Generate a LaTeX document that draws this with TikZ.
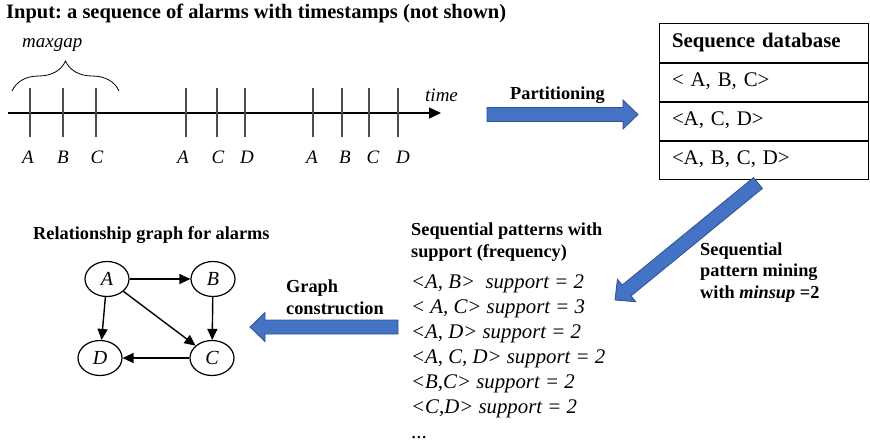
\documentclass[tikz,border=0pt]{standalone}
\usepackage{fontspec}
\setmainfont{Liberation Serif}
\usepackage{tikz}
\usepackage{xcolor}
\usetikzlibrary{shapes.geometric, arrows.meta, positioning, calc, decorations.pathreplacing}
\frenchspacing

\definecolor{arrowfill}{HTML}{4472C4}
\definecolor{arrowedge}{HTML}{2F528F}

% wide flat arrow from #1 (tail) to #2 (tip)
\newcommand{\blockarrow}[2]{%
  \coordinate (hb) at ($(#2)!15pt!(#1)$);
  \draw[bigarrow] ($(#1)!7pt!90:(#2)$) -- ($(hb)!7pt!90:(#2)$)
    -- ($(hb)!14.5pt!90:(#2)$) -- (#2) -- ($(hb)!14.5pt!-90:(#2)$)
    -- ($(hb)!7pt!-90:(#2)$) -- ($(#1)!7pt!-90:(#2)$) -- cycle;}

\begin{document}
\begin{tikzpicture}[x=1pt, y=-1pt, >={Triangle[length=11pt, width=10pt]},
    label/.style={font=\fontsize{18.3}{22}\selectfont\bfseries, align=left, inner sep=0pt, anchor=base west},
    seqtext/.style={font=\fontsize{20.8}{25}\selectfont, inner sep=0pt},
    rowbox/.style={draw, line width=1pt, minimum width=209pt, text width=183pt, inner xsep=13pt,
        inner ysep=0pt, minimum height=38pt, text height=14pt, text depth=4.5pt, align=left,
        font=\fontsize{20.8}{25}\selectfont},
    alarm/.style={ellipse, draw, line width=1.2pt, minimum width=44pt, minimum height=35pt, inner sep=0pt,
        font=\fontsize{20}{24}\selectfont\itshape},
    link/.style={->, line width=1.4pt},
    tick/.style={black!70, line width=1.2pt},
    bigarrow/.style={draw=arrowedge, fill=arrowfill, line width=0.8pt, line join=miter}]
    \useasboundingbox (0,0) rectangle (870,445);

    % input stream
    \node [anchor=base west, inner sep=0pt, font=\fontsize{20.5}{24}\selectfont\bfseries] (title) at (6,18)
        {Input: a sequence of alarms with timestamps (not shown)};
    \coordinate (t0) at (8,113);
    \coordinate (t1) at (441,113);
    \draw [line width=1.5pt, -{Triangle[length=12pt, width=11pt]}] (t0) -- (t1);
    \foreach \x/\lx/\l in {30/28/A, 63/63/B, 96/97/C, 186/183/A, 217/218/C, 245/247/D,
                           313/312/A, 342/345/B, 369/373/C, 398/403/D} {
        \draw [tick] (\x,88) -- (\x,137);
        \node [anchor=base, inner sep=0pt, font=\fontsize{19}{22}\selectfont\itshape] at (\lx,163) {\l};
    }
    \node [anchor=base west, inner sep=0pt, font=\fontsize{19}{22}\selectfont\itshape] (time) at (425,101) {time};
    \coordinate (g0) at (12,91);
    \coordinate (g1) at (119,91);
    \draw [line width=0.8pt, decorate, decoration={brace, amplitude=30pt}] (g0) -- (g1);
    \node [anchor=base west, inner sep=0pt, font=\fontsize{19}{22}\selectfont\itshape] (gap) at (22,47) {maxgap};

    % partitioning
    \node [label] (part) at (510,99) {Partitioning};
    \coordinate (part-tail) at (487,114.5);
    \coordinate (part-tip) at (638,114.5);
    \blockarrow{part-tail}{part-tip}

    % sequence database
    \node [rowbox, font=\fontsize{20.8}{25}\selectfont\bfseries, minimum height=39pt] (dbhead) at (763.5,42.5) {Sequence database};
    \node [rowbox, below=0pt of dbhead] (row1) {< A, B, C>};
    \node [rowbox, below=0pt of row1] (row2) {<A, C, D>};
    \node [rowbox, below=0pt of row2] (row3) {<A, B, C, D>};

    % mining
    \coordinate (mine-tail) at (758,183);
    \coordinate (mine-tip) at (615,300);
    \blockarrow{mine-tail}{mine-tip}
    \node [label, font=\fontsize{18.3}{21.5}\selectfont\bfseries] (mine) at (700,298)
        {Sequential\\pattern mining\\with \textit{minsup} =2};

    % patterns (multi-line nodes sit on their last baseline)
    \node [label] (pathead) at (411,257) {Sequential patterns with\\support (frequency)};
    \node [seqtext, anchor=base west, align=left, font=\fontsize{20.8}{25}\selectfont\itshape] (patterns) at (411,438)
        {<A, B>\ \ support = 2\\< A, C> support = 3\\<A, D> support = 2\\<A, C, D> support = 2\\<B,C> support = 2\\<C,D> support = 2\\\upshape ...};

    % graph construction
    \node [label] (build) at (286,314) {Graph\\construction};
    \coordinate (build-tail) at (398,327);
    \coordinate (build-tip) at (250,327);
    \blockarrow{build-tail}{build-tip}

    % relationship graph
    \node [label] (graphtitle) at (33,239) {Relationship graph for alarms};
    \node [alarm] (A) at (107,279) {A};
    \node [alarm] (B) at (213,279) {B};
    \node [alarm] (D) at (100,358) {D};
    \node [alarm] (C) at (212,358) {C};
    \draw [link] (A) -- (B);
    \draw [link] (A) -- (D);
    \draw [link] (A) -- (C);
    \draw [link] (B) -- (C);
    \draw [link] (C) -- (D);
\end{tikzpicture}
\end{document}
